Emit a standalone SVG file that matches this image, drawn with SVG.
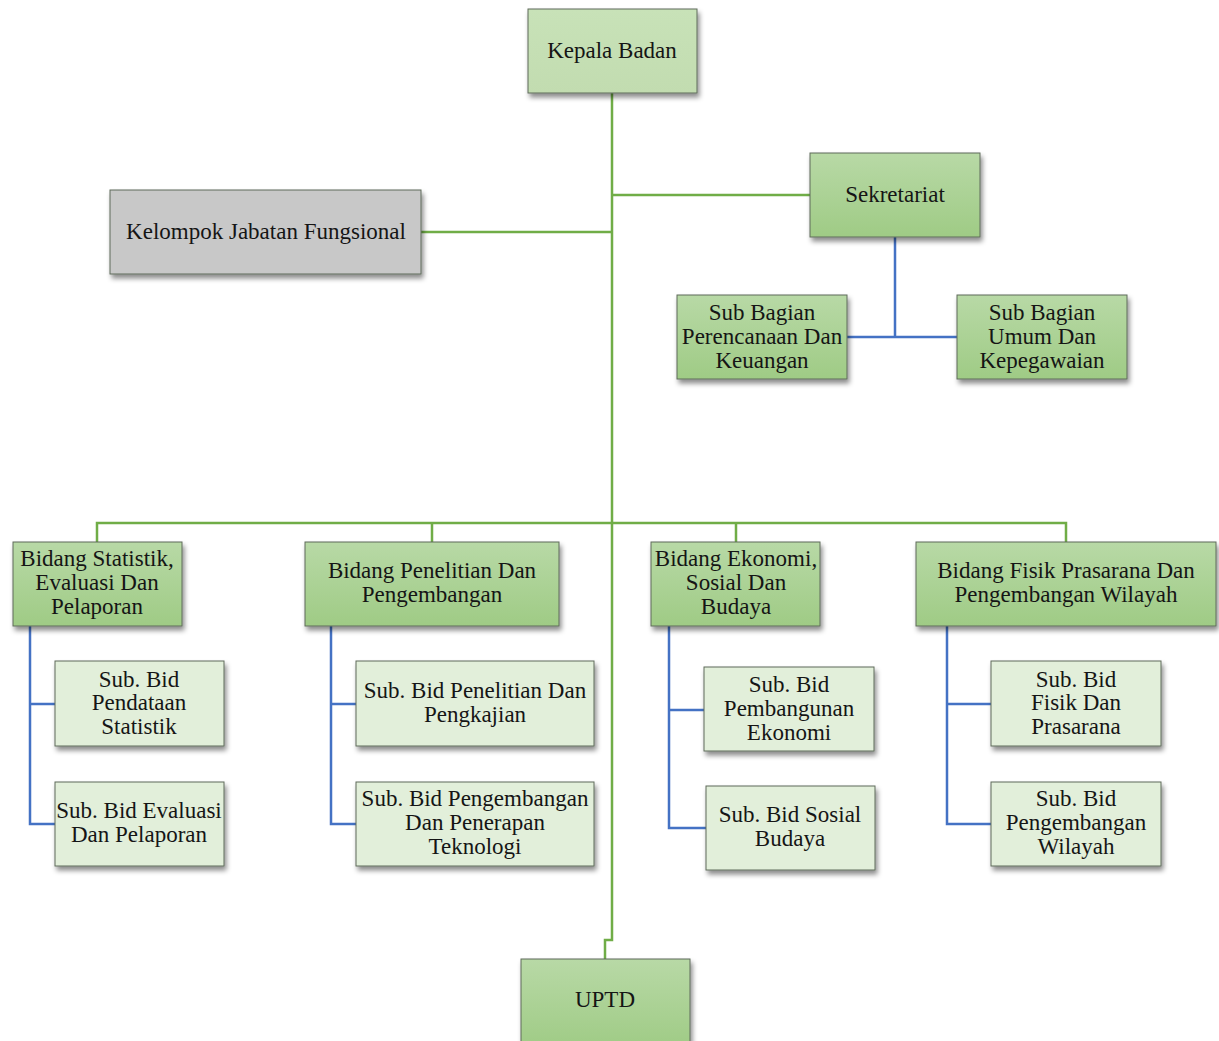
<svg xmlns="http://www.w3.org/2000/svg" width="1219" height="1041" viewBox="0 0 1219 1041">
<defs>
<linearGradient id="gDark" x1="0" y1="0" x2="0" y2="1"><stop offset="0" stop-color="#b8d9a6"/><stop offset="1" stop-color="#9fcb85"/></linearGradient>
<linearGradient id="gTop" x1="0" y1="0" x2="0" y2="1"><stop offset="0" stop-color="#c8e2b8"/><stop offset="1" stop-color="#c2dcb0"/></linearGradient>
<filter id="sh" x="-10%" y="-10%" width="130%" height="140%"><feDropShadow dx="2" dy="4" stdDeviation="2.5" flood-color="#000" flood-opacity="0.45"/></filter>
</defs>
<style>
rect{stroke:#5f6b5a;stroke-width:1;filter:url(#sh)}
.dark{fill:url(#gDark)}
.top{fill:url(#gTop)}
.light{fill:#e2efda}
.gray{fill:#c8c8c8}
text{font-family:'Liberation Serif','Times New Roman',serif;font-size:23px;fill:#151515;text-anchor:middle}
.g{stroke:#70ad47;stroke-width:2.5;fill:none}
.b{stroke:#4472c4;stroke-width:2.5;fill:none}
</style>
<g id="connectors">
<path class="g" d="M612 93V940H605V959"/>
<path class="g" d="M612 195H810"/>
<path class="g" d="M421 232H612"/>
<path class="g" d="M97 542V523H1066V542M432 523V542M736 523V542"/>
<path class="b" d="M895 237V337M847 337H957"/>
<path class="b" d="M30 626V824H55M30 704H55"/>
<path class="b" d="M331 626V824H356M331 704H356"/>
<path class="b" d="M669 626V828H706M669 710H704"/>
<path class="b" d="M947 626V824H991M947 704H991"/>
</g>
<g id="kepala"><rect class="top" x="528" y="9" width="169" height="84"/><text x="612" y="58">Kepala Badan</text></g>
<g id="sekretariat"><rect class="dark" x="810" y="153" width="170" height="84"/><text x="895" y="202">Sekretariat</text></g>
<g id="kelompok"><rect class="gray" x="110" y="190" width="311" height="84"/><text x="266" y="239">Kelompok Jabatan Fungsional</text></g>
<g id="subPerencanaan"><rect class="dark" x="677" y="295" width="170" height="84"/><text x="762" y="320">Sub Bagian</text><text x="762" y="344">Perencanaan Dan</text><text x="762" y="368">Keuangan</text></g>
<g id="subUmum"><rect class="dark" x="957" y="295" width="170" height="84"/><text x="1042" y="320">Sub Bagian</text><text x="1042" y="344">Umum Dan</text><text x="1042" y="368">Kepegawaian</text></g>
<g id="bidStatistik"><rect class="dark" x="13" y="542" width="169" height="84"/><text x="97" y="566">Bidang Statistik,</text><text x="97" y="590">Evaluasi Dan</text><text x="97" y="614">Pelaporan</text></g>
<g id="bidPenelitian"><rect class="dark" x="305" y="542" width="254" height="84"/><text x="432" y="578">Bidang Penelitian Dan</text><text x="432" y="602">Pengembangan</text></g>
<g id="bidEkonomi"><rect class="dark" x="651" y="542" width="169" height="84"/><text x="736" y="566">Bidang Ekonomi,</text><text x="736" y="590">Sosial Dan</text><text x="736" y="614">Budaya</text></g>
<g id="bidFisik"><rect class="dark" x="916" y="542" width="300" height="84"/><text x="1066" y="578">Bidang Fisik Prasarana Dan</text><text x="1066" y="602">Pengembangan Wilayah</text></g>
<g id="subPendataan"><rect class="light" x="55" y="661" width="169" height="85"/><text x="139" y="687">Sub. Bid</text><text x="139" y="710">Pendataan</text><text x="139" y="734">Statistik</text></g>
<g id="subEvaluasi"><rect class="light" x="55" y="782" width="169" height="84"/><text x="139" y="818">Sub. Bid Evaluasi</text><text x="139" y="842">Dan Pelaporan</text></g>
<g id="subPenelitian"><rect class="light" x="356" y="661" width="238" height="85"/><text x="475" y="698">Sub. Bid Penelitian Dan</text><text x="475" y="722">Pengkajian</text></g>
<g id="subPengembangan"><rect class="light" x="356" y="782" width="238" height="84"/><text x="475" y="806">Sub. Bid Pengembangan</text><text x="475" y="830">Dan Penerapan</text><text x="475" y="854">Teknologi</text></g>
<g id="subPembangunan"><rect class="light" x="704" y="667" width="170" height="84"/><text x="789" y="692">Sub. Bid</text><text x="789" y="716">Pembangunan</text><text x="789" y="740">Ekonomi</text></g>
<g id="subSosial"><rect class="light" x="706" y="786" width="169" height="84"/><text x="790" y="822">Sub. Bid Sosial</text><text x="790" y="846">Budaya</text></g>
<g id="subFisik"><rect class="light" x="991" y="661" width="170" height="85"/><text x="1076" y="687">Sub. Bid</text><text x="1076" y="710">Fisik Dan</text><text x="1076" y="734">Prasarana</text></g>
<g id="subWilayah"><rect class="light" x="991" y="782" width="170" height="84"/><text x="1076" y="806">Sub. Bid</text><text x="1076" y="830">Pengembangan</text><text x="1076" y="854">Wilayah</text></g>
<g id="uptd"><rect class="dark" x="521" y="959" width="169" height="90"/><text x="605" y="1007">UPTD</text></g>
</svg>
